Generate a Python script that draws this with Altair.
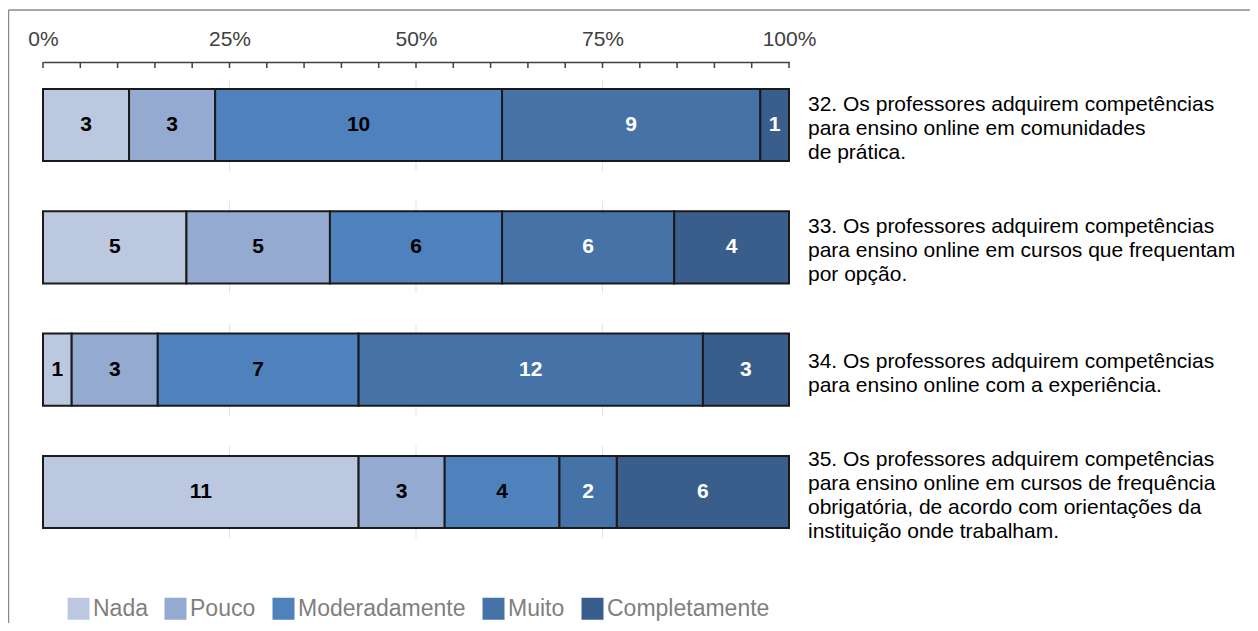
import altair as alt
import pandas as pd

# ---- data ----
questions = ["32", "33", "34", "35"]
question_lines = [
    ["32. Os professores adquirem competências",
     "para ensino online em comunidades",
     "de prática."],
    ["33. Os professores adquirem competências",
     "para ensino online em cursos que frequentam",
     "por opção."],
    ["34. Os professores adquirem competências",
     "para ensino online com a experiência."],
    ["35. Os professores adquirem competências",
     "para ensino online em cursos de frequência",
     "obrigatória, de acordo com orientações da",
     "instituição onde trabalham."],
]
levels = ["Nada", "Pouco", "Moderadamente", "Muito", "Completamente"]
nada = [3, 5, 1, 11]
pouco = [3, 5, 3, 3]
moderadamente = [10, 6, 7, 4]
muito = [9, 6, 12, 2]
completamente = [1, 4, 3, 6]
level_colors = ["#bcc8e0", "#95aad0", "#4f81bd", "#4573a7", "#3a5e8c"]
axis_values = [0, 0.25, 0.5, 0.75, 1.0]
tick_values = [0, 0.05, 0.10, 0.15, 0.20, 0.25, 0.30, 0.35, 0.40, 0.45, 0.50,
               0.55, 0.60, 0.65, 0.70, 0.75, 0.80, 0.85, 0.90, 0.95, 1.0]
grid_values = [0.25, 0.5, 0.75]

series = [nada, pouco, moderadamente, muito, completamente]
rows = []
for li, (lev, vals) in enumerate(zip(levels, series)):
    for q, v in zip(questions, vals):
        rows.append({"question": q, "level": lev, "order": li, "count": v})
df = pd.DataFrame(rows)
df_ticks = pd.DataFrame({"t": tick_values})
df_grid = pd.DataFrame([{"question": q, "g": g} for q in questions for g in grid_values])
df_one = pd.DataFrame({"k": [0]})

FONT = "Liberation Sans"
W, H = 746, 493
LINE_H = 24

xscale = alt.Scale(domain=[0, 1], nice=False, zero=True)
xaxis = alt.Axis(orient="top", values=axis_values, format="%",
                 labelFontSize=21, labelFont=FONT, labelColor="#404040",
                 ticks=False, tickSize=0, domainColor="#404040",
                 domainWidth=1.5, grid=False, labelPadding=13,
                 labelFlush=False, labelOverlap=False, title=None)
yenc = alt.Y("question:N", sort=questions, axis=None,
             scale=alt.Scale(paddingInner=0.41, paddingOuter=0.22))

grid = alt.Chart(df_grid).mark_tick(orient="vertical", size=92, thickness=1,
                                    color="#d9d9d9").encode(
    x=alt.X("g:Q", scale=xscale, axis=xaxis),
    y=yenc,
)

base = alt.Chart(df).transform_stack(
    stack="count", groupby=["question"], sort=[alt.SortField("order")],
    offset="normalize", as_=["x0", "x1"]
).transform_calculate(xm="(datum.x0 + datum.x1) / 2")

bars = base.mark_bar(stroke="#1a1a1a", strokeWidth=2).encode(
    x=alt.X("x0:Q", scale=xscale, axis=xaxis),
    x2="x1:Q",
    y=yenc,
    color=alt.Color("level:N", sort=levels,
                    scale=alt.Scale(domain=levels, range=level_colors),
                    legend=alt.Legend(orient="none", legendX=24, legendY=535,
                                      direction="horizontal", title=None,
                                      symbolType="square", symbolSize=484,
                                      symbolStrokeWidth=0, symbolOpacity=1,
                                      labelFontSize=23, labelFont=FONT,
                                      labelColor="#7f7f7f", labelOffset=3,
                                      labelLimit=400, columnPadding=16)),
)

values_text = base.mark_text(font=FONT, fontSize=21, fontWeight="bold",
                             baseline="middle", align="center").encode(
    x=alt.X("xm:Q", scale=xscale, axis=xaxis),
    y=yenc,
    text=alt.Text("count:Q"),
    color=alt.condition(
        alt.FieldOneOfPredicate(field="level", oneOf=["Muito", "Completamente"]),
        alt.value("white"), alt.value("black")),
)

label_layers = []
for q, lines in zip(questions, question_lines):
    d = pd.DataFrame({"question": [q], "label": ["\n".join(lines)]})
    label_layers.append(
        alt.Chart(d).mark_text(font=FONT, fontSize=21, align="left",
                               baseline="middle", lineBreak="\n",
                               lineHeight=LINE_H,
                               dy=4 - (len(lines) - 1) * LINE_H / 2,
                               color="black").encode(
            x=alt.value(W + 19),
            y=yenc,
            text="label:N",
        )
    )

ticks = alt.Chart(df_ticks).mark_rule(color="#404040", strokeWidth=1.5).encode(
    x=alt.X("t:Q", scale=xscale, axis=xaxis),
    y=alt.value(0),
    y2=alt.value(6),
)

frame_left = alt.Chart(df_one).mark_rule(color="#8a8a8a", strokeWidth=1.5).encode(
    x=alt.value(-34.5), y=alt.value(-52), y2=alt.value(H + 68))
frame_top = alt.Chart(df_one).mark_rule(color="#8a8a8a", strokeWidth=1.5).encode(
    y=alt.value(-52), x=alt.value(-34.5), x2=alt.value(W + 461))

chart = alt.layer(grid, bars, values_text, *label_layers, ticks,
                  frame_left, frame_top).properties(
    width=W, height=H,
    padding={"left": 35, "top": 54, "right": 461, "bottom": 68},
    autosize=alt.AutoSizeParams(type="none"),
).configure_view(stroke=None)

chart.save("out.html", embed_options={"renderer": "svg", "actions": False})
